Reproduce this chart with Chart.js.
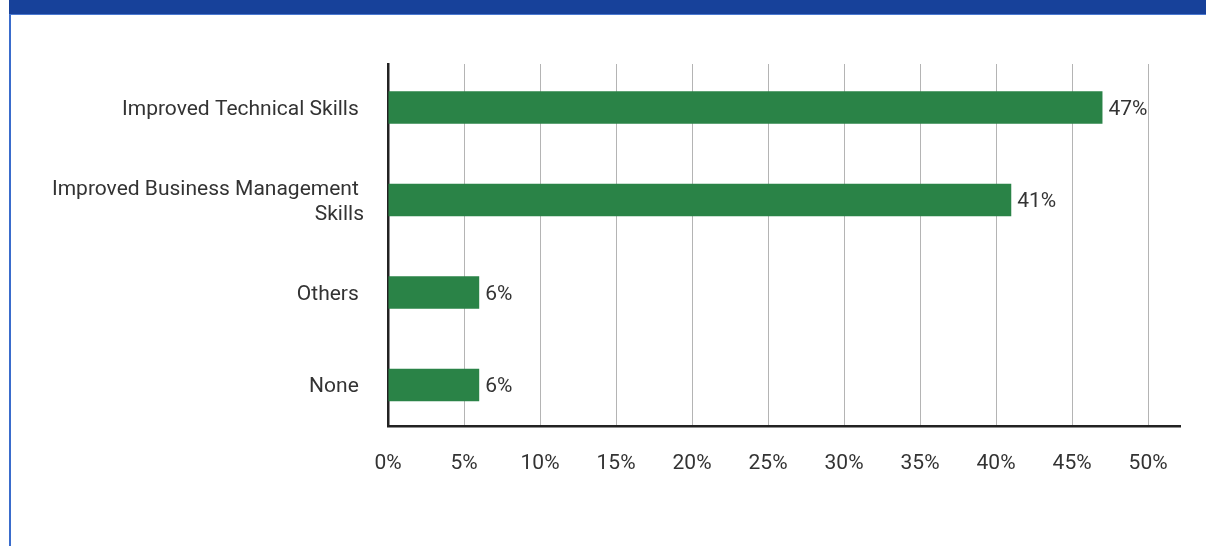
<!DOCTYPE html>
<html>
<head>
<meta charset="utf-8">
<script src="https://cdn.jsdelivr.net/npm/chart.js@4.4.1/dist/chart.umd.min.js"></script>
<style>
  html, body { margin: 0; padding: 0; background: #ffffff; }
  body { width: 1206px; height: 546px; position: relative; overflow: hidden; font-family: Roboto, sans-serif; }
  #frame { position: absolute; left: 9px; top: 0; width: 1197px; height: 546px; border-left: 2px solid #3a6ccc; box-sizing: border-box; }
  #band { position: absolute; left: 9px; top: 0; width: 1197px; height: 15px; background: #17419a; border-bottom: 1px solid #4a78d0; box-sizing: border-box; }
  #wrap { position: absolute; left: 0; top: 0; width: 1206px; height: 546px; }
</style>
</head>
<body>
<div id="frame"></div>
<div id="band"></div>
<div id="wrap"><canvas id="chart"></canvas></div>
<script>
// Survey outcome categories and the share of respondents (%)
const categories = [
  'Improved Technical Skills ',
  ['Improved Business Management ', 'Skills'],
  'Others ',
  'None '
];
const shares = [47, 41, 6, 6];
const xTicks = [0, 5, 10, 15, 20, 25, 30, 35, 40, 45, 50];

const TEXT = '#333333';
const FONT = { family: 'Roboto, sans-serif', size: 21, lineHeight: 1.2 };

// Prints each bar's value just past its end
const valueLabels = {
  id: 'valueLabels',
  afterDatasetsDraw(chart) {
    const ctx = chart.ctx;
    const meta = chart.getDatasetMeta(0);
    ctx.save();
    ctx.font = '21px Roboto, sans-serif';
    ctx.fillStyle = TEXT;
    ctx.textAlign = 'left';
    ctx.textBaseline = 'middle';
    meta.data.forEach((bar, i) => {
      ctx.fillText(shares[i] + '%', bar.x + 6, bar.y + 2);
    });
    ctx.restore();
  }
};

new Chart(document.getElementById('chart'), {
  type: 'bar',
  data: {
    datasets: [{
      data: shares.map((v, i) => ({ x: v, y: i })),
      backgroundColor: '#2a8347',
      borderWidth: 0,
      barPercentage: 0.35,
      categoryPercentage: 1
    }]
  },
  options: {
    indexAxis: 'y',
    responsive: true,
    maintainAspectRatio: false,
    animation: false,
    layout: { padding: { top: 64, right: 26, bottom: 70, left: 0 } },
    plugins: { legend: { display: false }, tooltip: { enabled: false } },
    scales: {
      x: {
        type: 'linear',
        min: 0,
        max: 52.1,
        afterBuildTicks(scale) { scale.ticks = xTicks.map(v => ({ value: v })); },
        afterFit(scale) { scale.height = 50; },
        grid: { color: '#b4b4b4', lineWidth: 1, drawTicks: false },
        border: { display: true, color: '#222222', width: 2.5 },
        ticks: {
          padding: 25,
          color: TEXT,
          font: FONT,
          callback: v => v + '%'
        }
      },
      y: {
        type: 'linear',
        reverse: true,
        offset: false,
        min: -0.47,
        max: 3.443,
        afterBuildTicks(scale) { scale.ticks = categories.map((c, i) => ({ value: i })); },
        afterFit(scale) { scale.width = 388; },
        grid: { display: false, offset: false },
        border: { display: true, color: '#222222', width: 2.5 },
        ticks: {
          padding: 16,
          labelOffset: 2,
          color: TEXT,
          font: FONT,
          autoSkip: false,
          callback: v => categories[v]
        }
      }
    }
  },
  plugins: [valueLabels]
});
</script>
</body>
</html>
